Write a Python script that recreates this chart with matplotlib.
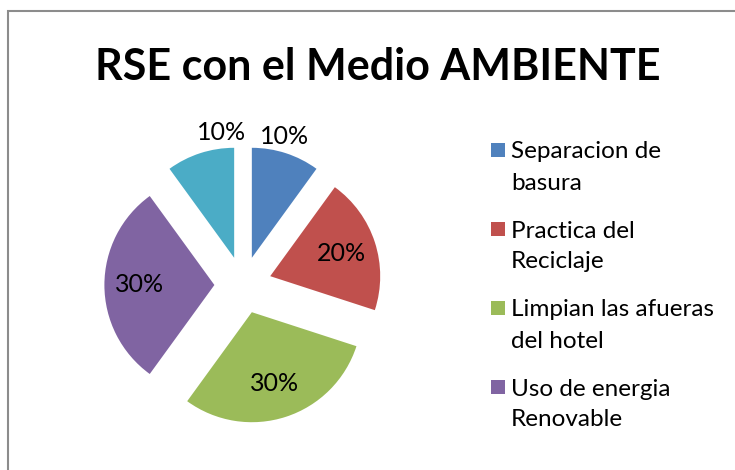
import matplotlib.pyplot as plt
from matplotlib.patches import Rectangle
import numpy as np

# datos del grafico
valores = [10, 20, 30, 30, 10]
colores = ["#4F81BD", "#C0504D", "#9BBB59", "#8064A2", "#4BACC6"]
leyenda = ["Separacion de\nbasura", "Practica del\nReciclaje",
           "Limpian las afueras\ndel hotel", "Uso de energia\nRenovable"]

plt.rcParams['font.family'] = ['Lato', 'DejaVu Sans']

W, H = 735, 470
fig = plt.figure(figsize=(W / 100, H / 100), dpi=100)

# marco gris del grafico (sale del lienzo por la derecha y abajo)
fig.patches.append(Rectangle((8 / W, -0.1), 1.1, (H - 11) / H + 0.1,
                             transform=fig.transFigure, fill=False,
                             edgecolor="#8c8c8c", linewidth=1.5))

fig.text(378 / W, 1 - 67 / H, "RSE con el Medio AMBIENTE",
         ha="center", va="center", fontsize=31, fontweight="bold")

# ejes del pastel: centro (243, 285) px, radio ~110 px
cx, cy, half = 243, 285, 145
ax = fig.add_axes([(cx - half) / W, (H - cy - half) / H, 2 * half / W, 2 * half / H])
lim = half / 110
ax.set_aspect("equal")
ax.axis("off")

expl = 0.26
wedges, texts, autotexts = ax.pie(valores, colors=colores, startangle=90,
                                  counterclock=False, explode=[expl] * len(valores),
                                  autopct="%d%%", pctdistance=0.68, radius=1,
                                  textprops={"fontsize": 18}, frame=False)
ax.set_xlim(-lim, lim)
ax.set_ylim(-lim, lim)

# las porciones pequeñas llevan la etiqueta fuera
ajuste = [2.5, 0, 0, 0, -10]
for w, t, a in zip(wedges, autotexts, ajuste):
    if w.theta2 - w.theta1 < 50:
        ang = np.deg2rad((w.theta1 + w.theta2) / 2 + a)
        t.set_position((1.40 * np.cos(ang), 1.40 * np.sin(ang)))
        t.set_va("center")

# leyenda estilo Excel: cuadro alineado con la primera linea
y0, paso, linea = 150, 79, 31
for i, (lab, col) in enumerate(zip(leyenda, colores)):
    y = y0 + i * paso
    fig.patches.append(Rectangle((491 / W, 1 - (y + 7) / H), 14 / W, 14 / H,
                                 transform=fig.transFigure, facecolor=col,
                                 edgecolor="none"))
    for j, parte in enumerate(lab.split("\n")):
        fig.text(511 / W, 1 - (y + j * linea) / H, parte, ha="left",
                 va="center_baseline", fontsize=17.5)

fig.savefig("out.png", dpi=100)
